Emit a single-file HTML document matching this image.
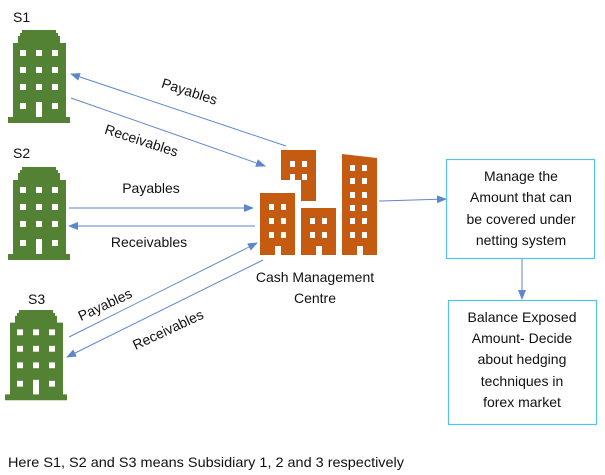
<!DOCTYPE html>
<html><head><meta charset="utf-8"><style>
html,body{margin:0;padding:0;background:#fff;width:605px;height:475px;overflow:hidden}
text{font-family:"Liberation Sans",sans-serif;font-size:14px;fill:#111}
</style></head><body>
<svg width="605" height="475" viewBox="0 0 605 475" xmlns="http://www.w3.org/2000/svg">
<defs>
<marker id="ah" markerWidth="10" markerHeight="8" refX="9" refY="4" orient="auto" markerUnits="userSpaceOnUse">
<path d="M0,0 L10,4 L0,8 Z" fill="#4472C4"/></marker>
<g id="gb">
<path d="M12,3 h2 v-3 h34 v3 h2 v3 h2 v7 h6 v74 h4 v6 h-62 v-6 h5 v-74 h5 v-7 h2 z" fill="#548235"/>
<g fill="#fff">
<rect x="12" y="20" width="6" height="6"/><rect x="28" y="20" width="6" height="6"/><rect x="44" y="20" width="6" height="6"/>
<rect x="12" y="37" width="6" height="6"/><rect x="28" y="37" width="6" height="6"/><rect x="44" y="37" width="6" height="6"/>
<rect x="12" y="54" width="6" height="6"/><rect x="28" y="54" width="6" height="6"/><rect x="44" y="54" width="6" height="6"/>
<rect x="12" y="73" width="6" height="6"/><rect x="28" y="72" width="6" height="15"/><rect x="44" y="73" width="6" height="6"/>
</g></g>
</defs>
<text x="13" y="22">S1</text>
<use href="#gb" x="8" y="30"/>
<text x="13" y="158">S2</text>
<use href="#gb" x="8" y="167"/>
<text x="28" y="304">S3</text>
<use href="#gb" transform="translate(5,310) scale(1,0.97)"/>

<g fill="#C55A11">
<rect x="260" y="193" width="35" height="62"/>
<path d="M281,150 h35 v51 h-15 v-21 h-20 z"/>
<rect x="301" y="208" width="35" height="47"/>
<path d="M342,154 L377,158 V255 H342 Z"/>
</g>
<g fill="#fff">
<rect x="269" y="204" width="5" height="6"/><rect x="281" y="204" width="5" height="6"/>
<rect x="269" y="218" width="5" height="6"/><rect x="281" y="218" width="5" height="6"/>
<rect x="269" y="232" width="5" height="6"/><rect x="281" y="232" width="5" height="6"/>
<rect x="275" y="246" width="6" height="9"/>
<rect x="290" y="161" width="5" height="6"/><rect x="302" y="161" width="5" height="6"/>
<rect x="290" y="174" width="5" height="6"/><rect x="302" y="174" width="5" height="6"/>
<rect x="310" y="218" width="5" height="6"/><rect x="322" y="218" width="5" height="6"/>
<rect x="310" y="232" width="5" height="6"/><rect x="322" y="232" width="5" height="6"/>
<rect x="316" y="246" width="6" height="9"/>
<rect x="350" y="165" width="5" height="6"/><rect x="362" y="165" width="5" height="6"/>
<rect x="350" y="178" width="5" height="6"/><rect x="362" y="178" width="5" height="6"/>
<rect x="350" y="192" width="5" height="6"/><rect x="362" y="192" width="5" height="6"/>
<rect x="350" y="205" width="5" height="6"/><rect x="362" y="205" width="5" height="6"/>
<rect x="350" y="218" width="5" height="6"/><rect x="362" y="218" width="5" height="6"/>
<rect x="350" y="232" width="5" height="6"/><rect x="362" y="232" width="5" height="6"/>
<rect x="357" y="246" width="6" height="9"/>
</g>
<text x="315" y="282" text-anchor="middle">Cash Management</text>
<text x="315" y="303" text-anchor="middle">Centre</text>

<g stroke="#4472C4" stroke-width="1" fill="none" marker-end="url(#ah)" opacity="0.85">
<line x1="286" y1="146" x2="71" y2="74"/>
<line x1="71" y1="98" x2="265" y2="166"/>
<line x1="69" y1="208" x2="253" y2="208"/>
<line x1="255" y1="226" x2="69" y2="226"/>
<line x1="69" y1="337" x2="257" y2="243"/>
<line x1="263" y1="260" x2="67" y2="357"/>
<line x1="379" y1="201" x2="446" y2="199"/>
<line x1="522" y1="259" x2="522" y2="299"/>
</g>

<text transform="translate(188,96) rotate(18)" text-anchor="middle">Payables</text>
<text transform="translate(140,145) rotate(18)" text-anchor="middle">Receivables</text>
<text x="151" y="193" text-anchor="middle">Payables</text>
<text x="149" y="247" text-anchor="middle">Receivables</text>
<text transform="translate(107,309) rotate(-25)" text-anchor="middle">Payables</text>
<text transform="translate(170,334) rotate(-25)" text-anchor="middle">Receivables</text>

<rect x="446.5" y="159.5" width="148" height="99" fill="none" stroke="#55C1EE" stroke-width="1.2"/>
<g text-anchor="middle">
<text x="521" y="181">Manage the</text>
<text x="521" y="202">Amount that can</text>
<text x="521" y="224">be covered under</text>
<text x="521" y="245">netting system</text>
</g>
<rect x="448.5" y="300.5" width="148" height="124" fill="none" stroke="#55C1EE" stroke-width="1.2"/>
<g text-anchor="middle">
<text x="522" y="322">Balance Exposed</text>
<text x="522" y="343">Amount- Decide</text>
<text x="522" y="364">about hedging</text>
<text x="522" y="386">techniques in</text>
<text x="522" y="407">forex market</text>
</g>
<text x="8" y="467" textLength="396" lengthAdjust="spacingAndGlyphs">Here S1, S2 and S3 means Subsidiary 1, 2 and 3 respectively</text>
</svg>
</body></html>
